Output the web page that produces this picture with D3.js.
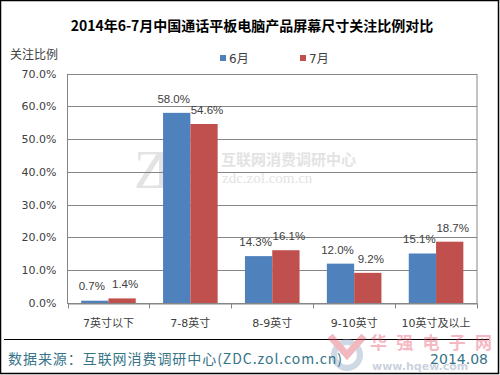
<!DOCTYPE html>
<html><head><meta charset="utf-8">
<script src="https://cdn.jsdelivr.net/npm/d3@7"></script>
<style>
body{margin:0;background:#fff;}
svg{display:block;font-family:"DejaVu Sans","Noto Sans CJK SC",sans-serif;}
</style></head>
<body>
<svg id="c" width="500" height="375"></svg>
<script>
const categories = ["7英寸以下","7-8英寸","8-9英寸","9-10英寸","10英寸及以上"];
const seriesNames = ["6月","7月"];
const june = [0.7, 58.0, 14.3, 12.0, 15.1];
const july = [1.4, 54.6, 16.1, 9.2, 18.7];
const yTicks = [0,10,20,30,40,50,60,70];
const colors = ["#4F81BD","#C0504D"];

const svg = d3.select("#c");
const W=500,H=375;
svg.append("rect").attr("x",0.5).attr("y",0.5).attr("width",W-2).attr("height",H-2)
  .attr("fill","#fff").attr("stroke","#000").attr("stroke-width",1.5);

const m={l:67.5,r:477,t:73.5,b:303};
const x = d3.scaleBand().domain(categories).range([m.l,m.r]);
const xs = d3.scaleBand().domain(seriesNames).range([0,x.bandwidth()]).paddingOuter(0.5).paddingInner(0);
const y = d3.scaleLinear().domain([0,70]).range([m.b,m.t]);

// watermark ZDC
const wm = svg.append("g").attr("opacity",0.5);
wm.append("text").attr("x",134).attr("y",188).attr("font-family","Liberation Serif, serif")
  .attr("font-size",54).attr("fill","#c8c8c8").attr("textLength",80).text("ZDC");
wm.append("text").attr("x",221).attr("y",165).attr("font-family","Noto Sans CJK SC").attr("font-weight","bold")
  .attr("font-size",15).attr("fill","#c8c8c8").text("互联网消费调研中心");
wm.append("text").attr("x",222).attr("y",183).attr("font-family","Liberation Serif, serif")
  .attr("font-size",15).attr("fill","#c8c8c8").text("zdc.zol.com.cn");

// gridlines
svg.append("g").selectAll("line").data(yTicks.slice(1)).join("line")
  .attr("x1",m.l).attr("x2",m.r).attr("y1",d=>Math.round(y(d))+0.5).attr("y2",d=>Math.round(y(d))+0.5)
  .attr("stroke","#868686").attr("stroke-width",1);
// plot border
svg.append("rect").attr("x",m.l).attr("y",Math.round(y(70))+0.5).attr("width",m.r-m.l).attr("height",Math.round(y(0))-Math.round(y(70)))
  .attr("fill","none").attr("stroke","#868686");

// y axis
const ya = d3.axisLeft(y).tickValues(yTicks).tickSize(0).tickPadding(11).tickFormat(d=>d.toFixed(1)+"%");
const yg = svg.append("g").attr("transform",`translate(${m.l},0)`).call(ya);
yg.select(".domain").remove();
yg.selectAll("text").attr("font-size",11).attr("fill","#404040").attr("font-family","DejaVu Sans");

// bars
const data = categories.map((c,i)=>({c, vals:[june[i],july[i]]}));
const gcat = svg.append("g").selectAll("g").data(data).join("g")
  .attr("transform",d=>`translate(${x(d.c)},0)`);
gcat.selectAll("rect").data(d=>d.vals.map((v,j)=>({v,s:seriesNames[j],j}))).join("rect")
  .attr("x",d=>xs(d.s)).attr("width",xs.bandwidth())
  .attr("y",d=>y(d.v)).attr("height",d=>y(0)-y(d.v)).attr("fill",d=>colors[d.j]);
gcat.selectAll("text").data(d=>d.vals.map((v,j)=>({v,s:seriesNames[j],j}))).join("text")
  .attr("x",d=>xs(d.s)+xs.bandwidth()/2+(d.j===0?-3:3)).attr("y",d=>Math.min(y(d.v)-10, y(0)-13))
  .attr("text-anchor","middle").attr("font-size",11.5).attr("fill","#404040")
  .attr("font-family","Liberation Sans, Arial, sans-serif")
  .text(d=>d.v.toFixed(1)+"%");

// x axis
const xa = d3.axisBottom(x).tickSize(0).tickPadding(16);
const xg = svg.append("g").attr("transform",`translate(0,${Math.round(y(0))+0.5})`).call(xa);
xg.select(".domain").attr("stroke","#868686");
xg.selectAll("text").attr("font-size",11).attr("fill","#404040").attr("font-family","DejaVu Sans, Noto Sans CJK SC");
xg.append("g").selectAll("line").data(categories.concat(["end"])).join("line")
  .attr("x1",(d,i)=>Math.round(m.l+i*x.step())+0.5).attr("x2",(d,i)=>Math.round(m.l+i*x.step())+0.5)
  .attr("y1",0).attr("y2",5).attr("stroke","#868686");

// title
svg.append("text").attr("x",252).attr("y",31).attr("text-anchor","middle")
  .attr("font-size",14).attr("font-weight","bold").attr("fill","#000")
  .attr("font-family","Noto Sans CJK SC").text("2014年6-7月中国通话平板电脑产品屏幕尺寸关注比例对比");
svg.append("text").attr("x",10).attr("y",59).attr("font-size",12).attr("fill","#404040")
  .attr("font-family","Noto Sans CJK SC").text("关注比例");

// legend
const leg = svg.append("g").selectAll("g").data(seriesNames).join("g")
  .attr("transform",(d,i)=>`translate(${220+i*80},0)`);
leg.append("rect").attr("x",0).attr("y",55).attr("width",6).attr("height",6).attr("fill",(d,i)=>colors[i]);
leg.append("text").attr("x",9).attr("y",63).attr("font-size",12).attr("fill","#404040").text(d=>d);

// footer
svg.append("line").attr("x1",4).attr("x2",489).attr("y1",339.5).attr("y2",339.5).attr("stroke","#000").attr("stroke-width",1.2);

// hqew watermark
const hw = svg.append("g").attr("opacity",0.4);
hw.append("circle").attr("cx",347).attr("cy",355).attr("r",13).attr("fill","none").attr("stroke","#8aa0c0").attr("stroke-width",6);
hw.append("path").attr("d","M330,336 L347,355 L364,336").attr("fill","none").attr("stroke","#e05060").attr("stroke-width",7);
hw.append("text").attr("x",370).attr("y",349).attr("font-size",17).attr("font-weight","bold").attr("fill","#e8506a")
  .attr("font-family","Noto Sans CJK SC").attr("textLength",122).text("华强电子网");
hw.append("text").attr("x",372).attr("y",370).attr("font-size",11).attr("font-weight","bold").attr("fill","#8090b0")
  .text("www.hqew.com");

svg.append("text").attr("x",8).attr("y",364).attr("font-size",14).attr("fill","#367488")
  .attr("font-family","Noto Sans CJK SC").attr("textLength",334).text("数据来源：互联网消费调研中心(ZDC.zol.com.cn)");
svg.append("text").attr("x",488).attr("y",364).attr("text-anchor","end").attr("font-size",14).attr("fill","#367488")
  .attr("font-family","DejaVu Sans").text("2014.08");
</script>
</body></html>
